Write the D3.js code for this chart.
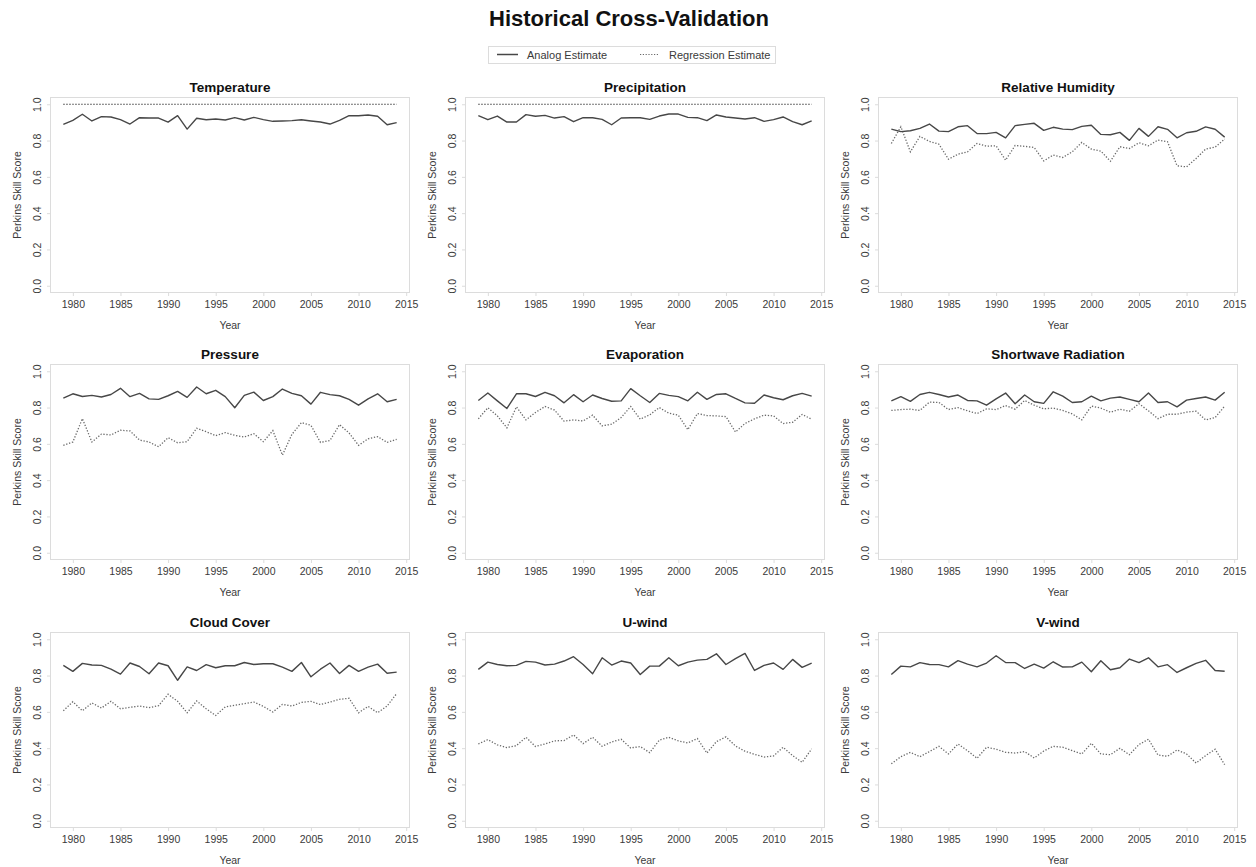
<!DOCTYPE html>
<html>
<head>
<meta charset="utf-8">
<script src="https://cdn.jsdelivr.net/npm/d3@7"></script>
<style>
  html, body { margin: 0; padding: 0; background: #fff; }
  svg { display: block; font-family: "Liberation Sans", Arial, Helvetica, sans-serif; }
</style>
</head>
<body>
<svg id="chart" width="1256" height="867"></svg>
<script>
// ---- Data ----
const years = d3.range(1979, 2015);
const xTicks = [1980, 1985, 1990, 1995, 2000, 2005, 2010, 2015];
const yTicks = [0.0, 0.2, 0.4, 0.6, 0.8, 1.0];
const panelTitles = ["Temperature", "Precipitation", "Relative Humidity",
                     "Pressure", "Evaporation", "Shortwave Radiation",
                     "Cloud Cover", "U-wind", "V-wind"];
const seriesNames = ["Analog Estimate", "Regression Estimate"];

const tempAnalog = [0.889,0.911,0.945,0.908,0.932,0.930,0.915,0.891,0.926,0.924,0.924,0.902,0.937,0.863,0.923,0.915,0.919,0.913,0.926,0.913,0.928,0.915,0.906,0.908,0.910,0.915,0.908,0.902,0.891,0.911,0.937,0.937,0.941,0.934,0.887,0.899];
const tempRegression = [1,1,1,1,1,1,1,1,1,1,1,1,1,1,1,1,1,1,1,1,1,1,1,1,1,1,1,1,1,1,1,1,1,1,1,1];

const precipAnalog = [0.937,0.915,0.935,0.902,0.902,0.943,0.934,0.939,0.924,0.932,0.904,0.926,0.926,0.917,0.887,0.924,0.926,0.926,0.917,0.935,0.946,0.946,0.928,0.926,0.910,0.941,0.930,0.924,0.919,0.926,0.906,0.915,0.930,0.904,0.887,0.908];
const precipRegression = [1,1,1,1,1,1,1,1,1,1,1,1,1,1,1,1,1,1,1,1,1,1,1,1,1,1,1,1,1,1,1,1,1,1,1,1];

const rhAnalog = [0.863,0.849,0.854,0.867,0.891,0.852,0.849,0.876,0.882,0.839,0.838,0.845,0.815,0.882,0.889,0.895,0.856,0.873,0.863,0.860,0.878,0.884,0.834,0.832,0.845,0.801,0.867,0.823,0.876,0.862,0.815,0.843,0.851,0.875,0.862,0.819];
const rhRegression = [0.784,0.876,0.738,0.823,0.795,0.780,0.697,0.725,0.738,0.784,0.769,0.771,0.692,0.773,0.768,0.762,0.688,0.720,0.707,0.738,0.790,0.753,0.742,0.686,0.766,0.756,0.788,0.771,0.803,0.793,0.661,0.655,0.701,0.753,0.764,0.808];

const pressAnalog = [0.852,0.876,0.861,0.867,0.858,0.872,0.906,0.860,0.878,0.848,0.845,0.865,0.889,0.856,0.913,0.876,0.895,0.860,0.799,0.867,0.885,0.839,0.860,0.902,0.878,0.865,0.819,0.884,0.871,0.865,0.845,0.813,0.848,0.876,0.832,0.845];
const pressRegression = [0.592,0.610,0.739,0.610,0.654,0.649,0.675,0.671,0.621,0.610,0.584,0.634,0.606,0.612,0.686,0.667,0.645,0.662,0.647,0.638,0.656,0.612,0.673,0.538,0.652,0.717,0.702,0.608,0.619,0.706,0.660,0.592,0.628,0.640,0.608,0.625];

const evapAnalog = [0.839,0.880,0.837,0.795,0.876,0.876,0.861,0.884,0.865,0.826,0.871,0.832,0.869,0.850,0.835,0.837,0.904,0.865,0.828,0.878,0.867,0.860,0.837,0.884,0.845,0.872,0.876,0.850,0.826,0.824,0.869,0.854,0.843,0.865,0.878,0.863];
const evapRegression = [0.738,0.799,0.754,0.688,0.804,0.732,0.773,0.806,0.786,0.725,0.732,0.726,0.758,0.699,0.708,0.745,0.806,0.736,0.760,0.800,0.769,0.758,0.678,0.767,0.756,0.754,0.750,0.665,0.712,0.738,0.758,0.754,0.712,0.719,0.762,0.736];

const swAnalog = [0.837,0.860,0.834,0.872,0.884,0.872,0.858,0.869,0.839,0.837,0.813,0.848,0.880,0.821,0.869,0.832,0.823,0.887,0.863,0.828,0.832,0.863,0.837,0.852,0.858,0.845,0.832,0.880,0.828,0.832,0.804,0.841,0.850,0.858,0.841,0.884];
const swRegression = [0.784,0.789,0.791,0.784,0.830,0.828,0.789,0.800,0.782,0.767,0.793,0.789,0.811,0.791,0.839,0.813,0.793,0.797,0.784,0.765,0.732,0.808,0.797,0.774,0.791,0.780,0.821,0.782,0.739,0.763,0.763,0.775,0.780,0.732,0.745,0.808];

const cloudAnalog = [0.856,0.823,0.867,0.858,0.856,0.835,0.808,0.869,0.850,0.810,0.869,0.854,0.774,0.848,0.828,0.860,0.843,0.854,0.854,0.872,0.861,0.865,0.865,0.846,0.823,0.872,0.793,0.835,0.869,0.811,0.856,0.823,0.846,0.863,0.813,0.819];
const cloudRegression = [0.606,0.656,0.606,0.649,0.621,0.658,0.617,0.625,0.632,0.623,0.634,0.697,0.658,0.595,0.660,0.617,0.580,0.627,0.636,0.645,0.654,0.630,0.599,0.641,0.632,0.652,0.658,0.640,0.654,0.669,0.675,0.595,0.630,0.595,0.632,0.701];

const uwindAnalog = [0.834,0.874,0.861,0.854,0.856,0.878,0.874,0.858,0.863,0.880,0.904,0.861,0.810,0.898,0.858,0.880,0.869,0.806,0.852,0.852,0.898,0.854,0.874,0.885,0.889,0.920,0.861,0.893,0.922,0.828,0.856,0.869,0.834,0.889,0.845,0.869];
const uwindRegression = [0.423,0.447,0.418,0.403,0.414,0.460,0.409,0.423,0.440,0.442,0.473,0.425,0.460,0.410,0.434,0.449,0.401,0.409,0.375,0.444,0.460,0.440,0.429,0.453,0.373,0.436,0.462,0.412,0.383,0.366,0.351,0.357,0.405,0.359,0.322,0.396];

const vwindAnalog = [0.806,0.852,0.848,0.871,0.861,0.860,0.848,0.882,0.863,0.848,0.869,0.909,0.872,0.871,0.839,0.863,0.841,0.876,0.847,0.848,0.874,0.821,0.882,0.832,0.843,0.891,0.871,0.898,0.848,0.860,0.817,0.843,0.867,0.884,0.828,0.824];
const vwindRegression = [0.314,0.353,0.377,0.353,0.381,0.410,0.368,0.423,0.386,0.344,0.405,0.394,0.377,0.373,0.381,0.346,0.384,0.410,0.405,0.386,0.368,0.427,0.368,0.364,0.399,0.364,0.420,0.449,0.362,0.355,0.390,0.368,0.318,0.359,0.394,0.309];

const analogSeries = [tempAnalog, precipAnalog, rhAnalog, pressAnalog, evapAnalog, swAnalog, cloudAnalog, uwindAnalog, vwindAnalog];
const regressionSeries = [tempRegression, precipRegression, rhRegression, pressRegression, evapRegression, swRegression, cloudRegression, uwindRegression, vwindRegression];

// ---- Layout ----
const svg = d3.select("#chart");
const colLeft = [50, 465, 878];
const rowTop = [97, 364, 632];
const boxW = 360, boxH = 196;
const frameColor = "#dcdcdc";
const textColor = "#3a3a3a";
const analogColor = "#474747";
const regColor = "#6a6a6a";

svg.append("text")
  .attr("x", 629).attr("y", 26)
  .attr("text-anchor", "middle")
  .attr("font-size", 22).attr("font-weight", "bold")
  .attr("fill", "#111")
  .text("Historical Cross-Validation");

// Legend
const lg = svg.append("g");
lg.append("rect").attr("x", 488.5).attr("y", 46.5).attr("width", 287).attr("height", 17)
  .attr("fill", "#fff").attr("stroke", frameColor).attr("stroke-width", 1);
lg.append("line").attr("x1", 497).attr("x2", 518).attr("y1", 54.5).attr("y2", 54.5)
  .attr("stroke", analogColor).attr("stroke-width", 1.5);
lg.append("text").attr("x", 527).attr("y", 58.5).attr("font-size", 11).attr("fill", textColor).text(seriesNames[0]);
lg.append("line").attr("x1", 640).attr("x2", 658).attr("y1", 54.5).attr("y2", 54.5)
  .attr("stroke", regColor).attr("stroke-width", 1.2).attr("stroke-dasharray", "1.2,1.6");
lg.append("text").attr("x", 669).attr("y", 58.5).attr("font-size", 11).attr("fill", textColor).text(seriesNames[1]);

panelTitles.forEach((title, i) => {
  const left = colLeft[i % 3];
  const top = rowTop[Math.floor(i / 3)];
  const x = d3.scaleLinear().domain([1977.6, 2015.4]).range([left, left + boxW]);
  const y = d3.scaleLinear().domain([-0.04, 1.04]).range([top + boxH, top]);
  const g = svg.append("g");

  g.append("rect").attr("x", left + 0.5).attr("y", top + 0.5)
    .attr("width", boxW - 1).attr("height", boxH - 1)
    .attr("fill", "none").attr("stroke", frameColor).attr("stroke-width", 1);

  // x axis
  const xa = g.append("g").attr("transform", `translate(0,${top + boxH})`)
    .call(d3.axisBottom(x).tickValues(xTicks).tickFormat(d3.format("d")).tickSize(3).tickPadding(5));
  xa.select(".domain").remove();
  xa.selectAll("line").attr("stroke", frameColor);
  xa.selectAll("text").attr("font-size", 10.5).attr("fill", textColor)
    .attr("font-family", "Liberation Sans, Arial, sans-serif");

  // y axis
  const ya = g.append("g").attr("transform", `translate(${left},0)`)
    .call(d3.axisLeft(y).tickValues(yTicks).tickFormat(d3.format(".1f")).tickSize(3).tickPadding(0));
  ya.select(".domain").remove();
  ya.selectAll("line").attr("stroke", frameColor);
  ya.selectAll("text").attr("font-size", 10.5).attr("fill", textColor)
    .attr("font-family", "Liberation Sans, Arial, sans-serif")
    .attr("text-anchor", "middle")
    .attr("x", null).attr("dy", null)
    .attr("transform", "translate(-9,0) rotate(-90)")
    .attr("y", 0);

  g.append("text").attr("x", left + boxW / 2).attr("y", top - 5)
    .attr("text-anchor", "middle").attr("font-size", 13.5).attr("font-weight", "bold")
    .attr("fill", "#111").text(title);

  g.append("text").attr("x", left + boxW / 2).attr("y", top + boxH + 36)
    .attr("text-anchor", "middle").attr("font-size", 10.5).attr("fill", textColor).text("Year");

  g.append("text")
    .attr("transform", `translate(${left - 29},${top + boxH / 2}) rotate(-90)`)
    .attr("text-anchor", "middle").attr("font-size", 10.5).attr("fill", textColor)
    .text("Perkins Skill Score");

  const line = d3.line().x((d, j) => x(years[j])).y(d => y(d));

  g.append("path").datum(regressionSeries[i])
    .attr("d", line).attr("fill", "none")
    .attr("stroke", i < 2 ? "#222" : regColor)
    .attr("stroke-width", i < 2 ? 1.0 : 1.3)
    .attr("stroke-dasharray", "1.3,1.7");

  g.append("path").datum(analogSeries[i])
    .attr("d", line).attr("fill", "none")
    .attr("stroke", analogColor).attr("stroke-width", 1.4)
    .attr("stroke-linejoin", "round");
});
</script>
</body>
</html>
